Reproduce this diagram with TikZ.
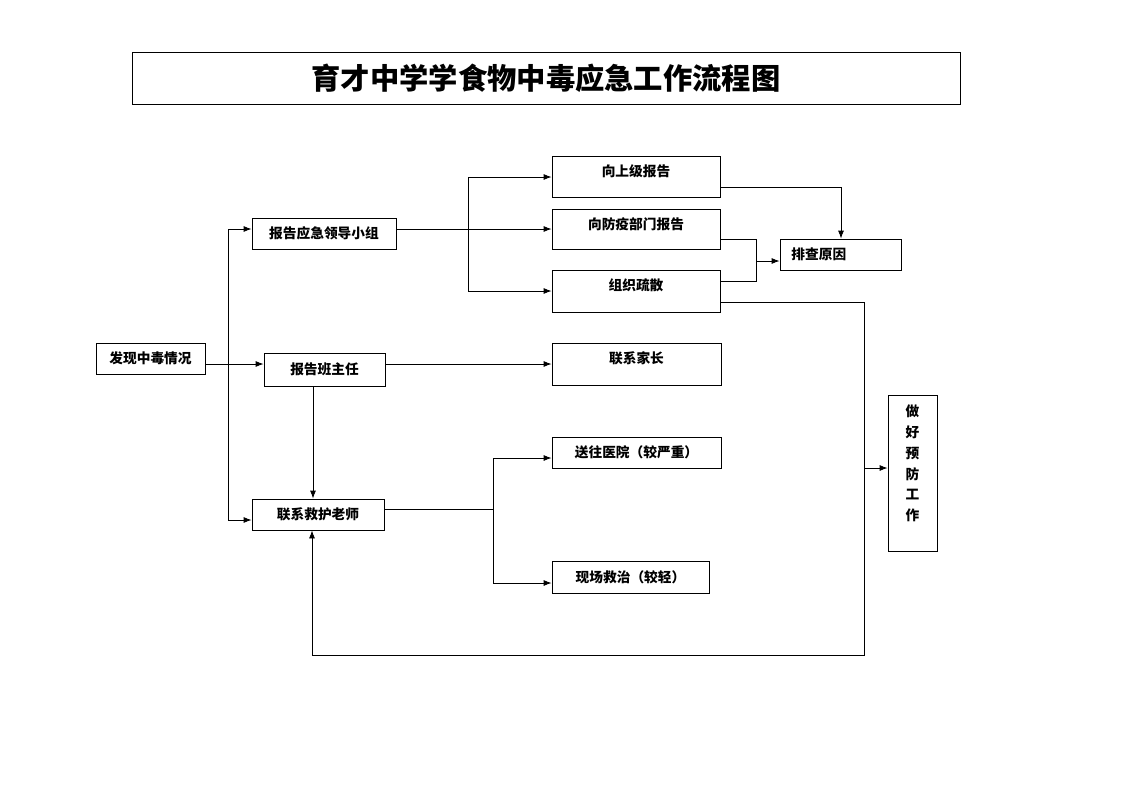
\documentclass[tikz,border=0pt]{standalone}
\usepackage{fontspec}
\setmainfont{Noto Sans CJK SC}
\usetikzlibrary{arrows.meta}
\begin{document}
\begin{tikzpicture}[x=1pt,y=-1pt, line width=0.8pt,
  box/.style={draw, inner sep=0pt},
  arr/.style={-{Latex[length=8pt,width=6pt]}},
  lbl/.style={font=\fontsize{13.7}{13.7}\selectfont\bfseries, inner sep=0pt}]
\useasboundingbox (0,0) rectangle (1122,793);
\node[box, minimum width=828pt, minimum height=52pt, font=\fontsize{29.3}{29.3}\selectfont\bfseries] (title) at (546,78) {育才中学学食物中毒应急工作流程图};

\node[box, lbl, minimum width=109pt, minimum height=31pt] (faxian) at (150.5,358.5) {发现中毒情况};
\node[box, lbl, minimum width=144pt, minimum height=31pt] (lingdao) at (324,233.5) {报告应急领导小组};
\node[box, lbl, minimum width=121pt, minimum height=33pt] (banzhuren) at (324.5,369.5) {报告班主任};
\node[box, lbl, minimum width=132pt, minimum height=31pt] (jiuhu) at (318,514.5) {联系救护老师};

\node[box, minimum width=168pt, minimum height=41pt] (shangji) at (636,176.5) {};
\node[lbl] (tshangji) at (636,171) {向上级报告};
\node[box, minimum width=168pt, minimum height=40pt] (fangyi) at (636,229) {};
\node[lbl] (tfangyi) at (636,224) {向防疫部门报告};
\node[box, minimum width=168pt, minimum height=42pt] (shusan) at (636,291) {};
\node[lbl] (tshusan) at (636,285) {组织疏散};
\node[box, minimum width=121pt, minimum height=31pt] (paicha) at (840.5,254.5) {};
\node[lbl, anchor=west] (tpaicha) at (791,254.5) {排查原因};
\node[box, minimum width=169pt, minimum height=42pt] (jiazhang) at (636.5,364) {};
\node[lbl] (tjiazhang) at (636.5,358) {联系家长};
\node[box, lbl, minimum width=169pt, minimum height=31pt] (yiyuan) at (636.5,452.5) {送往医院（较严重）};
\node[box, lbl, minimum width=157pt, minimum height=32pt] (xianchang) at (630.5,577) {现场救治（较轻）};
\node[box, minimum width=49pt, minimum height=156pt] (yufang) at (912.5,473) {};
\node[lbl, align=center, font=\fontsize{13.7}{20.8}\selectfont\bfseries, anchor=north] (tyufang) at (912.5,404.5) {做\\好\\预\\防\\工\\作};

\coordinate (t) at (228,364);
\draw[arr] (t) |- (lingdao.west |- 0,229);
\draw[arr] (t) |- (jiuhu.west |- 0,520);
\draw[arr] (faxian.east |- 0,364) -- (banzhuren.west |- 0,364);
\draw[arr] (lingdao.east |- 0,229) -- (fangyi.west |- 0,229);
\coordinate (b1) at (468,229);
\draw[arr] (b1) |- (shangji.west |- 0,177);
\draw[arr] (b1) |- (shusan.west |- 0,291);
\draw[arr] (banzhuren.east |- 0,364) -- (jiazhang.west |- 0,364);
\draw[arr] (banzhuren.south -| 313,0) -- (jiuhu.north -| 313,0);
\coordinate (b2) at (493,509);
\draw (jiuhu.east |- b2) -- (b2);
\draw[arr] (b2) |- (yiyuan.west |- 0,458);
\draw[arr] (b2) |- (xianchang.west |- 0,583);
\draw[arr] (shangji.east |- 0,187) -| (paicha.north -| 841,0);
\coordinate (m) at (756,261);
\draw (fangyi.east |- 0,239) -| (756,281) -- (shusan.east |- 0,281);
\draw[arr] (m) -- (paicha.west |- m);
\coordinate (c1) at (864,655);
\draw[arr] (shusan.east |- 0,302) -| (c1) -| (jiuhu.south -| 312,0);
\coordinate (c2) at (864,468);
\draw[arr] (c2) -- (yufang.west |- c2);
\end{tikzpicture}
\end{document}
